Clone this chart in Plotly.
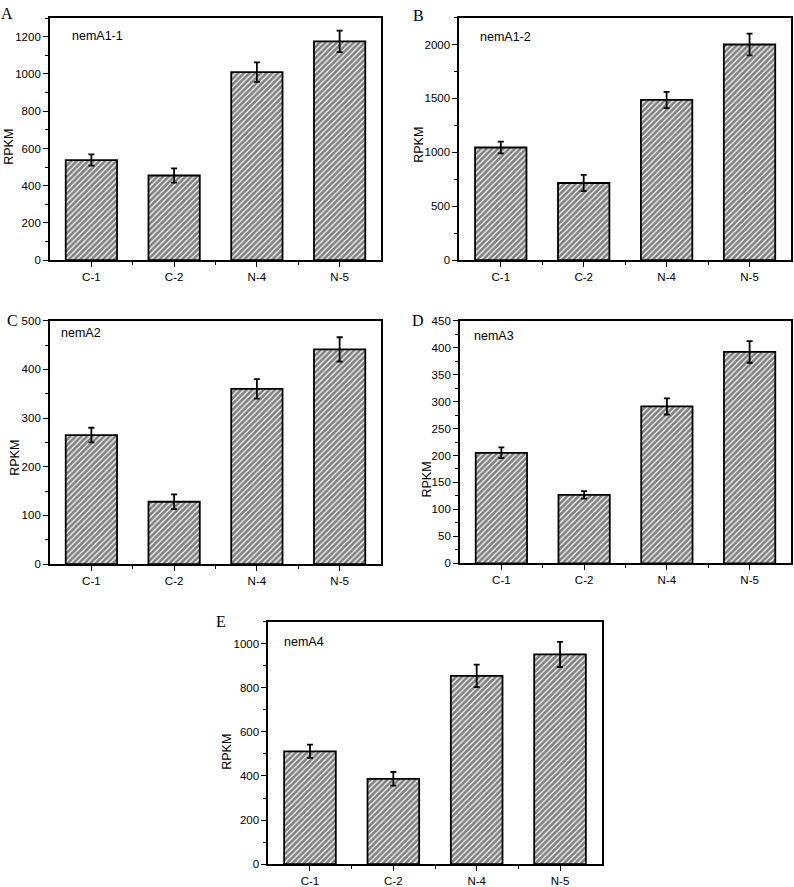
import plotly.graph_objects as go

categories = ["C-1", "C-2", "N-4", "N-5"]

nemA1_1 = [538, 455, 1010, 1175]
nemA1_1_err = [30, 38, 52, 58]
nemA1_2 = [1045, 716, 1486, 2000]
nemA1_2_err = [55, 75, 75, 100]
nemA2 = [265, 128, 360, 441]
nemA2_err = [15, 15, 20, 25]
nemA3 = [205, 127, 291, 392]
nemA3_err = [10, 7, 15, 20]
nemA4 = [512, 387, 854, 951]
nemA4_err = [30, 31, 51, 57]

gene_names = ["nemA1-1", "nemA1-2", "nemA2", "nemA3", "nemA4"]
panel_letters = ["A", "B", "C", "D", "E"]
series = [nemA1_1, nemA1_2, nemA2, nemA3, nemA4]
errors = [nemA1_1_err, nemA1_2_err, nemA2_err, nemA3_err, nemA4_err]
y_max = [1300, 2250, 500, 450, 1100]
y_dtick = [200, 500, 100, 50, 200]

W, H = 794, 887
# plot frames in pixels: (left, right, top, bottom)
frames = [
    (50, 381, 12.3, 257.7),
    (459.3, 791, 11.7, 257.7),
    (50, 381, 319, 565.7),
    (460, 791, 319, 565),
    (268.3, 601.7, 624, 870),
]
letter_pos = [(7, 7.5), (418, 9.5), (12, 319), (418, 319), (221, 624)]
gene_pos = [(70, 30), (478, 31.7), (59.3, 331.7), (471.7, 335), (281.7, 645)]
ylabel_pos = [(8.7, 143), (418.7, 141), (15, 458), (427, 480), (227, 756)]

xpos = list(range(1, len(categories) + 1))
minor_x = [p + 0.5 for p in xpos[:-1]]

fig = go.Figure()
layout = dict(
    width=W, height=H,
    margin=dict(l=0, r=0, t=0, b=0),
    paper_bgcolor="white", plot_bgcolor="white",
    showlegend=False,
    font=dict(family="Liberation Sans, Arial, sans-serif", color="black", size=11),
)
annotations = []

def px(x):
    return x / W

def py(y):
    return 1 - y / H

for i in range(5):
    sfx = "" if i == 0 else str(i + 1)
    l, r, t, b = frames[i]
    fig.add_trace(go.Bar(
        x=xpos, y=series[i],
        width=0.62,
        xaxis="x" + sfx, yaxis="y" + sfx,
        marker=dict(
            color="white",
            line=dict(color="black", width=1.8),
            pattern=dict(shape="/", fgcolor="black", bgcolor="white", size=4, solidity=0.7),
        ),
        error_y=dict(type="data", array=errors[i], visible=True,
                     color="black", thickness=1.8, width=3),
    ))
    layout["xaxis" + sfx] = dict(
        domain=[px(l), px(r)], anchor="y" + sfx,
        range=[0.5, 4.5], tickmode="array", tickvals=xpos, ticktext=categories,
        showline=True, linecolor="black", linewidth=1.8, mirror=True,
        ticks="outside", ticklen=5, tickwidth=1.3, tickcolor="black",
        minor=dict(tickmode="array", tickvals=minor_x, ticks="outside", ticklen=3,
                   tickwidth=1.3, tickcolor="black"),
        showgrid=False, zeroline=False, fixedrange=True,
        tickfont=dict(size=11.5),
    )
    layout["yaxis" + sfx] = dict(
        domain=[py(b), py(t)], anchor="x" + sfx,
        range=[0, y_max[i]], dtick=y_dtick[i], tick0=0,
        showline=True, linecolor="black", linewidth=1.8, mirror=True,
        ticks="outside", ticklen=5, tickwidth=1.3, tickcolor="black",
        minor=dict(dtick=y_dtick[i] / 2, ticks="outside", ticklen=3,
                   tickwidth=1.3, tickcolor="black", showgrid=False),
        showgrid=False, zeroline=False, fixedrange=True,
        tickfont=dict(size=11.5),
    )
    lx, ly = letter_pos[i]
    annotations.append(dict(
        x=px(lx), y=py(ly), xref="paper", yref="paper", text=panel_letters[i],
        showarrow=False, xanchor="center", yanchor="middle",
        font=dict(family="Liberation Serif, Times New Roman, serif", size=16, color="black"),
    ))
    gx, gy = gene_pos[i]
    annotations.append(dict(
        x=px(gx), y=py(gy), xref="paper", yref="paper", text=gene_names[i],
        showarrow=False, xanchor="left", yanchor="middle",
        font=dict(size=12.5, color="black"),
    ))
    yx, yy = ylabel_pos[i]
    annotations.append(dict(
        x=px(yx), y=py(yy), xref="paper", yref="paper", text="RPKM",
        showarrow=False, xanchor="center", yanchor="middle", textangle=-90,
        font=dict(size=12.5, color="black"),
    ))

layout["annotations"] = annotations
fig.update_layout(**layout)
fig.write_html("out.html")
